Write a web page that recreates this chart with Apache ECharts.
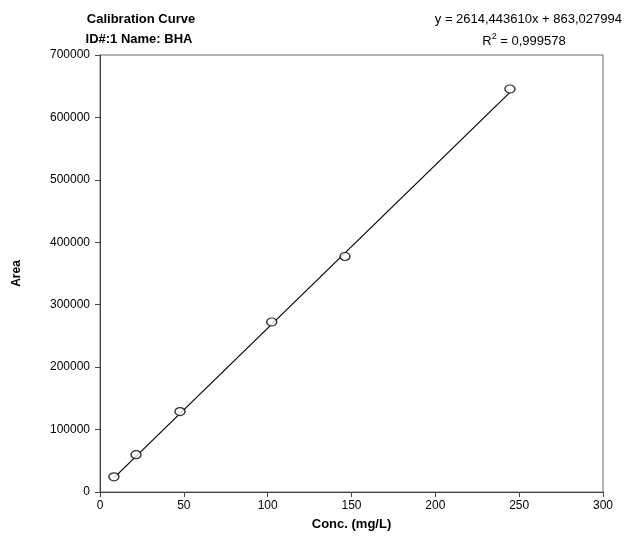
<!DOCTYPE html>
<html>
<head>
<meta charset="utf-8">
<script src="https://cdn.jsdelivr.net/npm/echarts@6/dist/echarts.min.js"></script>
<style>
  html, body { margin: 0; padding: 0; background: #fff; }
  #chart { width: 629px; height: 536px; }
</style>
</head>
<body>
<div id="chart"></div>
<script>
// Calibration standards: concentration (mg/L) and peak area
var concentrations = [8.3, 21.5, 47.7, 102.4, 146.1, 244.5];
var areas = [24300, 59800, 128800, 272300, 377300, 645600];

// Linear regression result shown on the chart
var slope = 2614.443610;
var intercept = 863.027994;
var rSquared = '0,999578';

// Axis ranges and ticks
var xTicks = { min: 0, max: 300, step: 50 };
var yTicks = { min: 0, max: 700000, step: 100000 };

var points = concentrations.map(function (c, i) { return [c, areas[i]]; });
var xLo = Math.min.apply(null, concentrations);
var xHi = Math.max.apply(null, concentrations);
var fitLine = [[xLo, slope * xLo + intercept], [xHi, slope * xHi + intercept]];

function fmt(v) { return v.toFixed(6).replace('.', ','); }

var font = 'Liberation Sans, Arial, sans-serif';
var chart = echarts.init(document.getElementById('chart'), null, { renderer: 'canvas' });

chart.setOption({
  animation: false,
  backgroundColor: '#ffffff',
  textStyle: { fontFamily: font },
  title: [
    {
      text: 'Calibration Curve',
      left: 136, top: 8,
      textAlign: 'center',
      textStyle: { fontFamily: font, fontSize: 13, fontWeight: 'bold', color: '#000' }
    },
    {
      text: 'ID#:1 Name: BHA',
      left: 134, top: 28,
      textAlign: 'center',
      textStyle: { fontFamily: font, fontSize: 13, fontWeight: 'bold', color: '#000' }
    },
    {
      text: 'y = ' + fmt(slope) + 'x + ' + fmt(intercept),
      right: 2, top: 8,
      textStyle: { fontFamily: font, fontSize: 13, fontWeight: 'normal', color: '#000' }
    },
    {
      text: '{r|R}{s|2}{r| = ' + rSquared + '}',
      left: 519, top: 27,
      textAlign: 'center',
      textStyle: {
        fontWeight: 'normal',
        rich: {
          r: { fontFamily: font, fontSize: 13, fontWeight: 'normal', color: '#000', verticalAlign: 'bottom', lineHeight: 16 },
          s: { fontFamily: font, fontSize: 9, fontWeight: 'normal', color: '#000', verticalAlign: 'top', lineHeight: 16 }
        }
      }
    }
  ],
  grid: {
    left: 100, right: 26, top: 55, bottom: 44,
    outerBoundsMode: 'none',
    containLabel: false,
    show: true, borderColor: '#666', borderWidth: 1, backgroundColor: 'transparent'
  },
  xAxis: {
    type: 'value',
    min: xTicks.min, max: xTicks.max, interval: xTicks.step,
    name: 'Conc. (mg/L)',
    nameLocation: 'middle', nameGap: 26,
    nameTextStyle: { fontFamily: font, fontSize: 13, fontWeight: 'bold', color: '#000' },
    axisLine: { show: true, onZero: false, lineStyle: { color: '#444', width: 1 } },
    axisTick: { show: true, inside: false, length: 5, lineStyle: { color: '#444' } },
    axisLabel: { fontFamily: font, fontSize: 12, color: '#000', margin: 8 },
    splitLine: { show: false }
  },
  yAxis: {
    type: 'value',
    min: yTicks.min, max: yTicks.max, interval: yTicks.step,
    name: 'Area',
    nameLocation: 'middle', nameGap: 77, nameRotate: 90,
    nameTextStyle: { fontFamily: font, fontSize: 12, fontWeight: 'bold', color: '#000' },
    axisLine: { show: true, onZero: false, lineStyle: { color: '#444', width: 1 } },
    axisTick: { show: true, inside: false, length: 5, lineStyle: { color: '#444' } },
    axisLabel: {
      fontFamily: font, fontSize: 12, color: '#000', margin: 10,
      formatter: function (v) { return String(v); }
    },
    splitLine: { show: false }
  },
  series: [
    {
      type: 'line',
      data: fitLine,
      showSymbol: false,
      symbol: 'none',
      lineStyle: { color: '#000', width: 1.2 },
      z: 2
    },
    {
      type: 'scatter',
      data: points,
      symbol: 'circle',
      symbolSize: [10, 8],
      itemStyle: { color: '#fff', borderColor: '#000', borderWidth: 1.3 },
      z: 3
    }
  ]
});
</script>
</body>
</html>
